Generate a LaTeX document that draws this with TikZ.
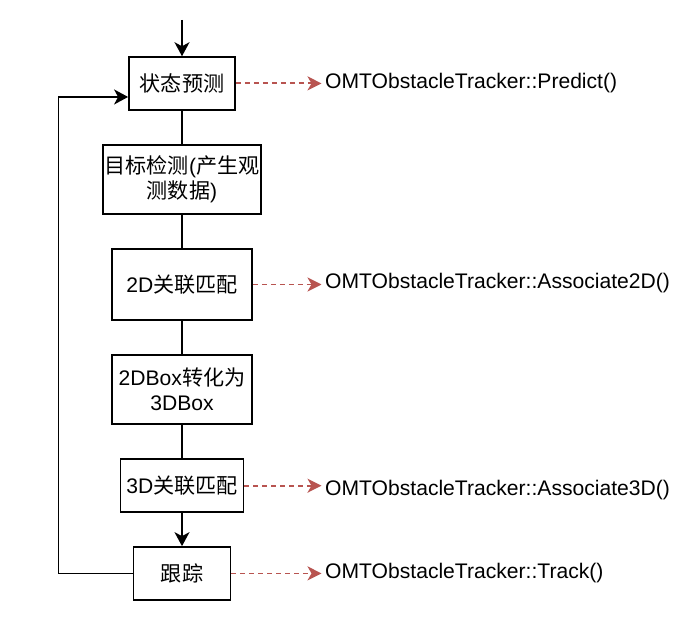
\documentclass[tikz,border=0pt]{standalone}
\usepackage{fontspec}
\setmainfont{Liberation Sans}
\newfontfamily\cjk{Noto Sans CJK SC}
\usetikzlibrary{arrows.meta,calc}
\definecolor{dred}{HTML}{B85450}
\begin{document}
\begin{tikzpicture}[x=1pt,y=-1pt,
  fnt/.style={font=\fontsize{21.1}{25}\selectfont},
  box/.style={draw=black,line width=1.8pt,fill=white,align=center,inner sep=0pt,fnt},
  flow/.style={line width=1.8pt,draw=black},
  arr/.style={flow,-{Stealth[length=14pt,width=15pt,inset=4pt]}},
  callarrow/.style={draw=dred,line width=1.8pt,dash pattern=on 5pt off 4pt,
    -{Stealth[length=14pt,width=14pt,inset=4pt,fill=dred]}},
  lbl/.style={anchor=west,inner xsep=3.5pt,inner ysep=0pt,fnt}]
\useasboundingbox[fill=white] (0,0) rectangle (693,617);
\node[box,minimum width=106pt,minimum height=52.5pt] (b1) at (182,83.4) {{\cjk 状态预测}};
\node[box,minimum width=157.5pt,minimum height=69.5pt] (b2) at (182,179.5) {{\cjk 目标检测}({\cjk 产生观}\\{\cjk 测数据})};
\node[box,minimum width=140pt,minimum height=70.4pt] (b3) at (182,284.5) {2D{\cjk 关联匹配}};
\node[box,minimum width=140pt,minimum height=69.3pt] (b4) at (182,389.7) {2DBox{\cjk 转化为}\\3DBox};
\node[box,minimum width=123pt,minimum height=52.7pt] (b5) at (182,485.7) {3D{\cjk 关联匹配}};
\node[box,minimum width=97pt,minimum height=52.7pt] (b6) at (182,573.4) {{\cjk 跟踪}};
\coordinate (start) at (182,20);
\node[lbl] (t1) at (321.5,83.4) {OMTObstacleTracker::Predict()};
\node[lbl] (t3) at (321.5,283.5) {OMTObstacleTracker::Associate2D()};
\node[lbl] (t5) at (321.5,490) {OMTObstacleTracker::Associate3D()};
\node[lbl] (t6) at (321.5,573) {OMTObstacleTracker::Track()};
\draw[arr] (start) -- (b1.north);
\draw[flow] (b1.south) -- (b2.north);
\draw[flow] (b2.south) -- (b3.north);
\draw[flow] (b3.south) -- (b4.north);
\draw[flow] (b4.south) -- (b5.north);
\draw[arr] (b5.south) -- (b6.north);
\draw[arr] (b6.west) -- ++(-74.2,0) |- ($(b1.south west)!0.25!(b1.north west)$);
\draw[callarrow] (b1.east) -- (b1.east -| t1.west);
\draw[callarrow] (b3.east) -- (b3.east -| t3.west);
\draw[callarrow] (b5.east) -- (b5.east -| t5.west);
\draw[callarrow] (b6.east) -- (b6.east -| t6.west);
\end{tikzpicture}
\end{document}
